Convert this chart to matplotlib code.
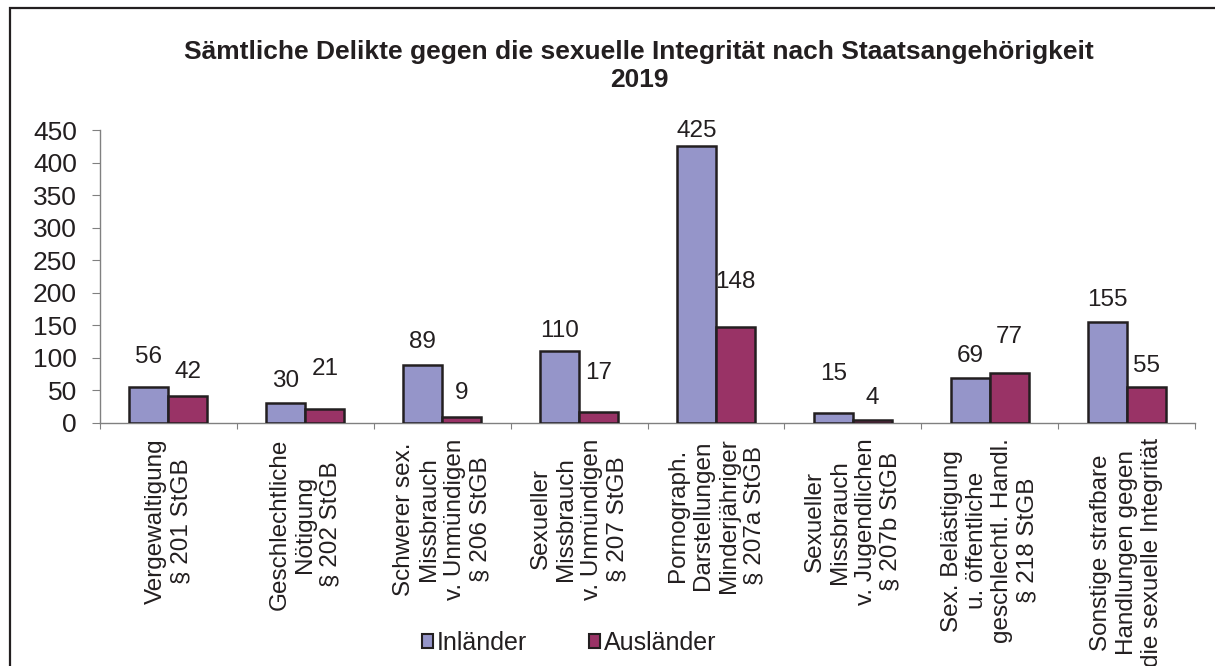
import numpy as np
from matplotlib import pyplot as plt
from matplotlib.patches import Rectangle

plt.rcParams['font.family'] = ['Liberation Sans', 'DejaVu Sans']

# data
categories = [
    "Vergewaltigung\n§ 201 StGB",
    "Geschlechtliche\nNötigung\n§ 202 StGB",
    "Schwerer sex.\nMissbrauch\nv. Unmündigen\n§ 206 StGB",
    "Sexueller\nMissbrauch\nv. Unmündigen\n§ 207 StGB",
    "Pornograph.\nDarstellungen\nMinderjähriger\n§ 207a StGB",
    "Sexueller\nMissbrauch\nv. Jugendlichen\n§ 207b StGB",
    "Sex. Belästigung\nu. öffentliche\ngeschlechtl. Handl.\n§ 218 StGB",
    "Sonstige strafbare\nHandlungen gegen\ndie sexuelle Integrität",
]
inlaender = [56, 30, 89, 110, 425, 15, 69, 155]
auslaender = [42, 21, 9, 17, 148, 4, 77, 55]
series_names = ["Inländer", "Ausländer"]

# label gaps above bars (points), placed by hand in the original
gap_in = [17, 11.5, 12, 10, 6.5, 24, 11.5, 11.5]
gap_aus = [13, 25, 13, 24, 28, 12, 21.5, 11]

txt = "#231f20"
c_in = "#9595c9"
c_aus = "#993366"

fig = plt.figure(figsize=(12.15, 6.66), dpi=100)
ax = fig.add_axes([100 / 1215, 1 - 423 / 666, 1095 / 1215, 293 / 666])

x = np.arange(len(categories))
w = 0.285
b1 = ax.bar(x - w / 2, inlaender, w, color=c_in, edgecolor=txt, linewidth=1.8, zorder=3)
b2 = ax.bar(x + w / 2, auslaender, w, color=c_aus, edgecolor=txt, linewidth=1.8, zorder=3)

for bars, vals, gaps in [(b1, inlaender, gap_in), (b2, auslaender, gap_aus)]:
    for r, v, g in zip(bars, vals, gaps):
        ax.annotate(str(v), (r.get_x() + r.get_width() / 2, v), xytext=(0, g),
                    textcoords="offset points", ha="center", va="baseline",
                    fontsize=17.5, color=txt)

ax.set_xlim(-0.5, len(categories) - 0.5)
ax.set_ylim(0, 450)
ax.set_yticks(np.arange(0, 451, 50))
ax.tick_params(axis="y", labelsize=19, labelcolor=txt, color="#808080", length=6, pad=10.5)

ax.set_xticks(np.arange(len(categories) + 1) - 0.5)
ax.set_xticklabels([])
ax.set_xticks(x, minor=True)
ax.set_xticklabels(categories, minor=True, rotation=90, ha="center", va="top",
                   multialignment="center", fontsize=17.5, color=txt)
ax.tick_params(axis="x", which="major", color="#808080", length=4.5)
ax.tick_params(axis="x", which="minor", length=0, pad=11)

for s in ["top", "right"]:
    ax.spines[s].set_visible(False)
for s in ["left", "bottom"]:
    ax.spines[s].set_color("#808080")
    ax.spines[s].set_linewidth(1)

fig.text(639 / 1215, 1 - 40 / 666,
         "Sämtliche Delikte gegen die sexuelle Integrität nach Staatsangehörigkeit\n2019",
         ha="center", va="top", fontsize=19, fontweight="bold", color=txt, linespacing=1.2)

handles = [Rectangle((0, 0), 1, 1, facecolor=c_in, edgecolor=txt, linewidth=1.5),
           Rectangle((0, 0), 1, 1, facecolor=c_aus, edgecolor=txt, linewidth=1.5)]
fig.legend(handles, series_names, loc="center", bbox_to_anchor=(569 / 1215, 1 - 643 / 666),
           ncol=2, frameon=False, fontsize=18, handlelength=0.45, handleheight=0.45,
           handletextpad=0.15, columnspacing=2.45, labelcolor=txt)

# outer frame (only top and left edges visible in the crop)
fig.patches.append(Rectangle((10 / 1215, -0.1), 1.2, 0.1 + 1 - 8 / 666, transform=fig.transFigure,
                             fill=False, edgecolor=txt, linewidth=1.6))

fig.savefig("out.png", dpi=100)
